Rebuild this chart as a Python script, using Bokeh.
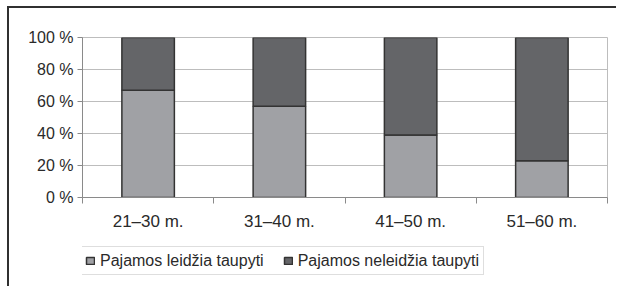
from bokeh.plotting import figure
from bokeh.layouts import column
from bokeh.models import Range1d, FixedTicker, Legend, LegendItem, ColumnDataSource
from bokeh.embed import file_html
from bokeh.resources import INLINE

categories = ["21–30 m.", "31–40 m.", "41–50 m.", "51–60 m."]
leidzia = [67, 57, 39, 23]
neleidzia = [33, 43, 61, 77]
y_ticks = [0, 20, 40, 60, 80, 100]
y_tick_labels = ["0 %", "20 %", "40 %", "60 %", "80 %", "100 %"]
series_names = ["Pajamos leidžia taupyti", "Pajamos neleidžia taupyti"]
colors = ["#a0a1a5", "#646568"]

FONT = "Liberation Sans"
TXT = "#2a2a2a"

xs = list(range(1, len(categories) + 1))

p = figure(width=607, height=229, output_backend="svg", toolbar_location=None,
           x_range=Range1d(0.5, len(categories) + 0.5), y_range=Range1d(0, 100),
           min_border_left=73, min_border_right=9, min_border_top=29, min_border_bottom=40)
p.outline_line_color = "#bdbdbd"
p.outline_line_width = 1

src = dict(x=xs, leidzia=leidzia, neleidzia=neleidzia)
p.vbar_stack(["leidzia", "neleidzia"], x="x", width=0.4, source=src,
             fill_color=colors, line_color="#333333", line_width=1.5)

# x axis
p.xaxis.ticker = FixedTicker(ticks=xs, minor_ticks=[x - 0.5 for x in xs] + [len(xs) + 0.5])
p.xaxis.major_label_overrides = {x: c for x, c in zip(xs, categories)}
p.xaxis.major_tick_out = 0
p.xaxis.major_tick_in = 0
p.xaxis.minor_tick_out = 6
p.xaxis.minor_tick_in = 0
p.xaxis.minor_tick_line_color = "#8a8a8a"
p.xaxis.axis_line_color = "#8a8a8a"
p.xaxis.major_label_standoff = 8
p.xaxis.major_label_text_font = FONT
p.xaxis.major_label_text_font_size = "17px"
p.xaxis.major_label_text_color = TXT
p.xgrid.grid_line_color = None

# y axis
p.yaxis.ticker = FixedTicker(ticks=y_ticks)
p.yaxis.major_label_overrides = {t: l for t, l in zip(y_ticks, y_tick_labels)}
p.yaxis.major_tick_out = 5
p.yaxis.major_tick_in = 0
p.yaxis.minor_tick_line_color = None
p.yaxis.major_tick_line_color = "#8a8a8a"
p.yaxis.axis_line_color = "#8a8a8a"
p.yaxis.major_label_standoff = 4
p.yaxis.major_label_text_font = FONT
p.yaxis.major_label_text_font_size = "16px"
p.yaxis.major_label_text_color = TXT
p.ygrid.grid_line_color = "#bdbdbd"
p.ygrid.grid_line_width = 1

# legend panel (separate figure below the chart; its renderers hold no visible data)
pl = figure(width=607, height=49, output_backend="svg", toolbar_location=None,
            x_range=Range1d(0, 1), y_range=Range1d(0, 1),
            x_axis_location=None, y_axis_location=None, min_border=0)
pl.outline_line_color = None
pl.grid.grid_line_color = None
nan = float("nan")
lr = [pl.vbar(x="x", top="top", width=0.1, source=ColumnDataSource(dict(x=[nan], top=[nan])),
              fill_color=c, line_color="#333333", line_width=1.5)
      for c in colors]
legend = Legend(items=[LegendItem(label=n, renderers=[r], index=0) for n, r in zip(series_names, lr)],
                orientation="horizontal", location=(-2, 11),
                glyph_width=10, glyph_height=9, label_standoff=5, spacing=19,
                label_height=19, padding=4, margin=0,
                label_text_font=FONT, label_text_font_size="16px", label_text_color=TXT,
                border_line_color="#bdbdbd", border_line_width=1.5,
                background_fill_color="white", background_fill_alpha=1)
pl.add_layout(legend, "center")

root = column(p, pl, spacing=0,
              styles={"margin-top": "6px", "margin-left": "7px",
                      "border-top": "2px solid #303030", "border-left": "2px solid #303030"})

open("out.html", "w").write(file_html(root, INLINE))
